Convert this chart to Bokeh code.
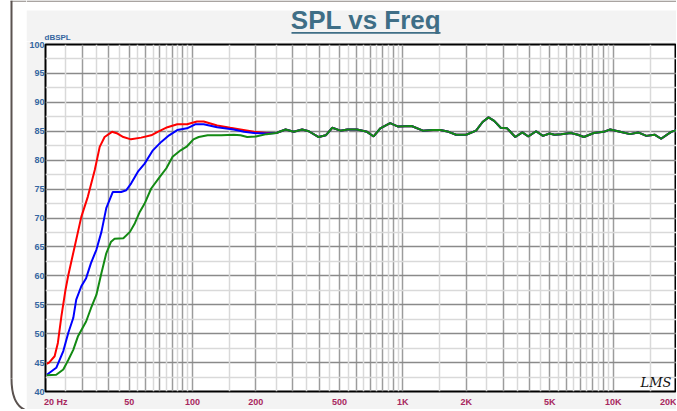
from bokeh.plotting import figure
from bokeh.layouts import column, row
from bokeh.models import FixedTicker, Grid, Label, Range1d
from bokeh.core.properties import value
from bokeh.embed import file_html
from bokeh.resources import INLINE

# ---------------- data ----------------
red_freq = [20.3, 20.8, 22.1, 22.9, 23.8, 24.9, 25.7, 27.5, 29.6, 31.8, 34.3, 36.2, 38.2, 41.4, 44.0,
            46.9, 51.0, 57.0, 63.6, 68.3, 76.0, 84.6, 94.2, 105, 113, 131, 151, 169, 196, 225]
red_spl = [44.8, 45.0, 46.1, 48.4, 53.0, 57.6, 60.2, 65.0, 70.2, 73.7, 78.3, 82.3, 84.0, 84.9, 84.6,
           84.0, 83.6, 83.9, 84.3, 84.9, 85.7, 86.2, 86.2, 86.7, 86.7, 86.0, 85.6, 85.3, 84.9, 84.7]

blue_freq = [20.3, 22.5, 24.3, 25.7, 27.1, 28.0, 29.6, 31.2, 32.9, 34.9, 36.9, 38.9, 41.8, 45.8, 48.4,
             51.1, 55.0, 59.2, 64.8, 71.2, 77.4, 84.6, 94.2, 103, 113, 131, 157, 176, 196, 225]
blue_spl = [42.9, 44.1, 47.0, 50.2, 52.7, 55.9, 58.2, 59.6, 62.2, 64.5, 67.6, 71.7, 74.5, 74.5, 74.8,
            76.0, 78.0, 79.4, 81.7, 83.2, 84.3, 85.2, 85.5, 86.2, 86.2, 85.7, 85.3, 84.9, 84.7, 84.6]

green_freq = [20.3, 22.5, 24.3, 25.7, 27.1, 28.5, 31.2, 32.9, 34.9, 36.9, 38.9, 41.0, 42.6, 46.9, 50.4,
              53.2, 56.2, 59.2, 63.6, 69.9, 75.1, 80.4, 87.8, 94.2, 101, 107, 118, 137, 157, 169,
              182, 200, 225]
green_spl = [42.8, 42.9, 43.8, 45.5, 47.2, 49.5, 52.1, 54.4, 56.7, 60.5, 63.9, 65.9, 66.4, 66.5, 67.6,
             69.1, 71.1, 72.5, 75.1, 77.1, 78.6, 80.6, 81.7, 82.4, 83.6, 84.0, 84.3, 84.3, 84.4, 84.3,
             84.0, 84.1, 84.5]

# shared response above ~250 Hz (all three traces coincide)
tail_freq = [250, 277, 303, 332, 357, 398, 430, 462, 505, 545, 605, 676, 726, 781, 870, 950, 1100,
             1245, 1391, 1508, 1650, 1791, 2000, 2229, 2394, 2554, 2718, 2919, 3131, 3424, 3700,
             3950, 4300, 4636, 4980, 5260, 5655, 6282, 6800, 7254, 8085, 9010, 9682, 10790, 12020,
             13150, 14380, 15730, 16900, 18860, 20000]
tail_spl = [84.7, 85.3, 84.9, 85.3, 85.0, 84.0, 84.3, 85.6, 85.1, 85.3, 85.3, 84.9, 84.1, 85.5, 86.4,
            85.8, 85.9, 85.1, 85.2, 85.2, 84.9, 84.4, 84.4, 85.1, 86.6, 87.4, 86.8, 85.6, 85.5, 84.0,
            84.8, 84.1, 85.0, 84.2, 84.6, 84.4, 84.5, 84.7, 84.4, 84.0, 84.7, 84.9, 85.3, 84.9, 84.5,
            84.8, 84.2, 84.4, 83.7, 84.9, 85.2]

NB = "\u00a0"
x_label_ticks = [20, 50, 100, 200, 500, 1000, 2000, 5000, 10000, 20000]
x_label_texts = [NB * 7 + "20 Hz", "50", "100", "200", "500", "1K", "2K", "5K", "10K", "20K"]
x_major_grid = [20, 30, 40, 50, 60, 70, 80, 90, 100, 200, 300, 400, 500, 600, 700, 800, 900,
                1000, 2000, 3000, 4000, 5000, 6000, 7000, 8000, 9000, 10000, 20000]
x_minor_grid = [25, 35, 45, 55, 65, 75, 85, 95, 150, 250, 350, 450, 550, 650, 750, 850, 950,
                1500, 2500, 3500, 4500, 5500, 6500, 7500, 8500, 9500, 15000]
y_major = [40, 45, 50, 55, 60, 65, 70, 75, 80, 85, 90, 95, 100]
y_minor = [42.5, 47.5, 52.5, 57.5, 62.5, 67.5, 72.5, 77.5, 82.5, 87.5, 92.5, 97.5]

title_text = "SPL vs Freq"
unit_text = "dBSPL"

FONT = "Liberation Sans"
BLUE_TXT = "#3566a0"
RED_TXT = "#a8275e"
TITLE_C = "#3f6e86"
PANEL = "#f3f3f3"
EDGE = "#5b5350"
TOPLINE = "#8d8682"

W = 650
HH = 41
MH = 368
SW = 26
TOTAL_H = HH + MH


def bare(fig):
    fig.frame_align = False
    fig.grid.visible = False
    fig.outline_line_color = None
    fig.background_fill_color = "white"
    fig.border_fill_color = "white"


# ---------------- left edge strip (page frame) ----------------
strip = figure(width=SW, height=TOTAL_H, x_range=Range1d(0, SW), y_range=Range1d(TOTAL_H, 0),
               output_backend="svg", toolbar_location=None, title_location=None,
               x_axis_location=None, y_axis_location=None,
               min_border=0, min_border_left=0, min_border_right=0, min_border_top=0,
               min_border_bottom=0)
bare(strip)
strip.quad(left=[10], right=[SW], top=[0], bottom=[1.3], fill_color=TOPLINE, line_color=None)
strip.segment(x0=[11], y0=[0], x1=[11], y1=[378], line_color=EDGE, line_width=2)
strip.bezier(x0=[11], y0=[378], x1=[26], y1=[410], cx0=[11], cy0=[397], cx1=[17], cy1=[407],
             line_color=EDGE, line_width=2)

# ---------------- header (title strip) ----------------
hdr = figure(width=W, height=HH, x_range=Range1d(0, W), y_range=Range1d(HH, 0),
             output_backend="svg", toolbar_location=None, title_location=None,
             x_axis_location=None, y_axis_location=None,
             min_border=0, min_border_left=0, min_border_right=0, min_border_top=0,
             min_border_bottom=0)
bare(hdr)
hdr.quad(left=[0], right=[W], top=[0], bottom=[1.3], fill_color=TOPLINE, line_color=None)
hdr.quad(left=[0], right=[W], top=[10], bottom=[HH], fill_color=PANEL, line_color=None)
hdr.text(x=[339.5], y=[19.2], text=[title_text], text_font=value(FONT), text_font_size="26px",
         text_font_style="bold", text_color=TITLE_C, text_align="center",
         text_baseline="alphabetic")
hdr.segment(x0=[265], y0=[32.4], x1=[414], y1=[32.4], line_color=TITLE_C, line_width=1.8)
hdr.text(x=[18], y=[37.2], text=[unit_text], text_font=value(FONT), text_font_size="8px",
         text_font_style="bold", text_color=BLUE_TXT, text_align="left",
         text_baseline="alphabetic")

# ---------------- main plot ----------------
p = figure(width=W, height=MH, x_axis_type="log",
           x_range=Range1d(20, 20000), y_range=Range1d(40, 100),
           output_backend="svg", toolbar_location=None, title_location=None,
           min_border_left=18, min_border_right=0, min_border_top=3, min_border_bottom=17)
p.frame_align = False

p.border_fill_color = PANEL
p.background_fill_color = "white"
p.outline_line_color = "black"
p.outline_line_width = 2

# grids
p.xgrid.ticker = FixedTicker(ticks=x_major_grid)
p.xgrid.grid_line_color = "#9c9c9c"
p.xgrid.grid_line_width = 1.5
p.ygrid.ticker = FixedTicker(ticks=y_major)
p.ygrid.grid_line_color = "#8a8a8a"
p.ygrid.grid_line_width = 1.5
p.add_layout(Grid(dimension=0, ticker=FixedTicker(ticks=x_minor_grid),
                  grid_line_color="#d9d9d9", grid_line_width=1.5))
p.add_layout(Grid(dimension=1, ticker=FixedTicker(ticks=y_minor),
                  grid_line_color="#d9d9d9", grid_line_width=1.5))

# axes
for ax in (p.xaxis[0], p.yaxis[0]):
    ax.axis_line_color = None
    ax.major_tick_line_color = None
    ax.minor_tick_line_color = None
    ax.major_tick_out = 0
    ax.major_tick_in = 0
    ax.minor_tick_out = 0
    ax.minor_tick_in = 0
    ax.major_label_text_font = FONT
    ax.major_label_text_font_size = "9px"
    ax.major_label_text_font_style = "bold"
p.xaxis.ticker = FixedTicker(ticks=x_label_ticks)
p.xaxis.major_label_overrides = {t: s for t, s in zip(x_label_ticks, x_label_texts)}
p.xaxis.major_label_text_color = RED_TXT
p.xaxis.major_label_standoff = 5
p.yaxis.ticker = FixedTicker(ticks=y_major)
p.yaxis.major_label_text_color = BLUE_TXT
p.yaxis.major_label_standoff = 1

# curves
p.line(red_freq + tail_freq, red_spl + tail_spl, line_color="#ff0000", line_width=2)
p.line(blue_freq + tail_freq, blue_spl + tail_spl, line_color="#0000ff", line_width=2)
p.line(green_freq + tail_freq, green_spl + tail_spl, line_color="#138a13", line_width=2)

p.add_layout(Label(x=614, y=341, x_units="canvas", y_units="canvas", text="LMS",
                   text_font="DejaVu Serif", text_font_size="13px", text_font_style="italic",
                   text_color="#111111", text_baseline="alphabetic", text_align="left"))

layout = row(strip, column(hdr, p, spacing=0), spacing=0)

open("out.html", "w").write(file_html(layout, INLINE))
